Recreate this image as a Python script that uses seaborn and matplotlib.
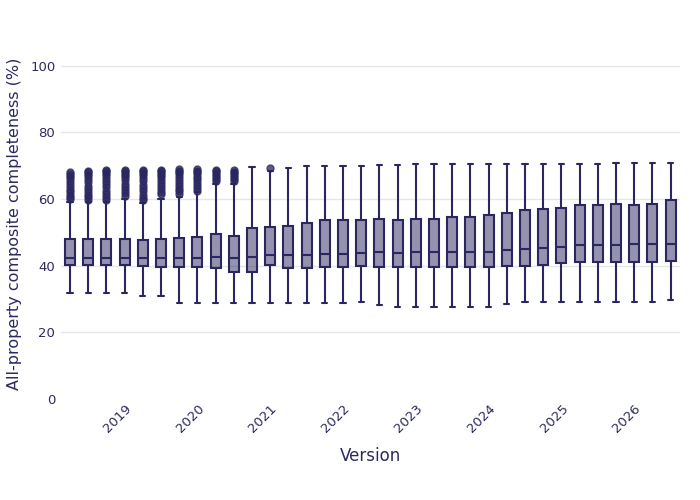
import numpy as np
import pandas as pd
import matplotlib
matplotlib.use("Agg")
import matplotlib.pyplot as plt
import seaborn as sns
from matplotlib.colors import to_rgba

# Quarterly versions, 2018 Q2 .. 2026 Q3
versions = [f"{y}-Q{q}" for y in range(2018, 2027) for q in range(1, 5)][1:35]

# Five-number summaries (%)
whisker_low = [31.7, 31.7, 31.7, 31.7, 31.0, 31.0, 28.7, 28.7, 28.7, 28.7,
               28.7, 28.7, 28.7, 28.7, 28.7, 28.7, 29.2, 28.2, 27.7, 27.7,
               27.7, 27.7, 27.7, 27.7, 28.4, 29.2, 29.2, 29.2, 29.2, 29.2,
               29.2, 29.2, 29.2, 29.7]
q1 = [40.2, 40.3, 40.3, 40.2, 40.0, 39.5, 39.5, 39.5, 39.2, 38.0,
      38.0, 40.2, 39.2, 39.3, 39.5, 39.5, 40.0, 39.7, 39.5, 39.6,
      39.6, 39.6, 39.6, 39.6, 39.9, 40.0, 40.3, 40.9, 41.0, 41.0,
      41.0, 41.0, 41.0, 41.3]
median = [42.3, 42.4, 42.4, 42.4, 42.3, 42.2, 42.3, 42.4, 42.7, 42.3,
          42.5, 43.2, 43.2, 43.2, 43.4, 43.4, 43.9, 44.0, 43.8, 44.0,
          44.0, 44.1, 44.0, 44.2, 44.6, 45.0, 45.2, 45.6, 46.2, 46.2,
          46.2, 46.4, 46.6, 46.6]
q3 = [48.0, 48.0, 48.0, 48.1, 47.7, 48.1, 48.2, 48.6, 49.6, 48.8,
      51.3, 51.6, 52.0, 52.7, 53.7, 53.7, 53.7, 54.0, 53.7, 54.0,
      54.0, 54.5, 54.7, 55.2, 55.7, 56.6, 56.9, 57.2, 58.1, 58.1,
      58.4, 58.3, 58.4, 59.7]
whisker_high = [59.0, 59.0, 59.0, 59.0, 58.8, 60.1, 60.5, 62.0, 64.6, 64.5,
                69.6, 68.4, 69.2, 70.0, 70.0, 70.0, 70.0, 70.2, 70.2, 70.4,
                70.4, 70.4, 70.4, 70.4, 70.6, 70.6, 70.6, 70.6, 70.6, 70.6,
                70.8, 70.8, 70.8, 70.8]
outliers = [
    [59.9, 60.5, 61.2, 62.0, 62.8, 63.6, 64.5, 65.4, 66.2, 66.9, 67.5, 68.0],
    [59.8, 60.5, 61.3, 62.2, 63.1, 64.0, 65.0, 65.9, 66.8, 67.5, 68.0, 68.4],
    [59.8, 60.6, 61.5, 62.5, 63.5, 64.5, 65.5, 66.4, 67.2, 67.8, 68.3, 68.7],
    [59.9, 60.8, 61.7, 62.6, 63.6, 64.6, 65.6, 66.5, 67.3, 67.9, 68.4, 68.7],
    [59.6, 60.4, 61.3, 62.3, 63.3, 64.3, 65.3, 66.3, 67.1, 67.8, 68.3, 68.6],
    [61.4, 62.2, 63.0, 63.9, 64.8, 65.7, 66.5, 67.3, 67.9, 68.4, 68.7],
    [61.5, 62.3, 63.1, 64.0, 64.9, 65.8, 66.6, 67.4, 68.0, 68.5, 68.9],
    [62.5, 63.3, 64.1, 65.0, 65.9, 66.7, 67.4, 68.0, 68.5, 68.9],
    [65.4, 66.0, 66.7, 67.3, 67.9, 68.4, 68.8],
    [65.3, 65.9, 66.5, 67.1, 67.7, 68.2, 68.7],
    [], [69.3],
] + [[] for _ in range(22)]

line_col = "#2a2660"
text_col = "#2c2a5e"


def expand(i):
    # sample whose quartiles/whiskers reproduce the read summary
    vals = ([whisker_low[i]] + [q1[i]] * 20 + [median[i]] * 20 +
            [q3[i]] * 20 + [whisker_high[i]] + outliers[i])
    return pd.DataFrame({"Version": versions[i], "value": vals})


df = pd.concat([expand(i) for i in range(len(versions))], ignore_index=True)

sns.set_theme(style="white")
plt.rcParams['font.family'] = ['DejaVu Sans']

fig = plt.figure(figsize=(7, 5), dpi=100)
ax = fig.add_axes([0.087, 0.202, 0.884, 0.70])

sns.boxplot(
    data=df, x="Version", y="value", order=versions,
    color=line_col, linecolor=line_col, width=0.55, linewidth=1.5,
    flierprops=dict(marker="o", markerfacecolor=line_col,
                    markeredgecolor=line_col, markersize=5, alpha=0.75),
    ax=ax,
)
for p in ax.patches:
    p.set_facecolor(to_rgba(line_col, 0.5))
    p.set_edgecolor(line_col)

ax.set_xlim(-0.5, len(versions) - 0.5)
ax.set_ylim(0, 105)
ax.set_yticks([0, 20, 40, 60, 80, 100])
ax.yaxis.grid(True, color="#e6e6e6", linewidth=1)
ax.set_axisbelow(True)
ax.yaxis.get_gridlines()[0].set_visible(False)

tick_pos = [i for i, v in enumerate(versions) if v.endswith("Q1")]
ax.set_xticks(tick_pos)
ax.set_xticklabels([versions[i][:4] for i in tick_pos], rotation=45,
                   ha="right", rotation_mode="anchor")
ax.tick_params(axis="x", length=0, pad=2, labelsize=9.5, colors=text_col)
ax.tick_params(axis="y", length=0, pad=4, labelsize=9.5, colors=text_col)

for s in ax.spines.values():
    s.set_visible(False)

ax.set_xlabel("Version", fontsize=12, color=text_col, labelpad=9)
ax.set_ylabel("All-property composite completeness (%)", fontsize=11.5,
              color=text_col, labelpad=6)

fig.savefig("out.png", dpi=100)
